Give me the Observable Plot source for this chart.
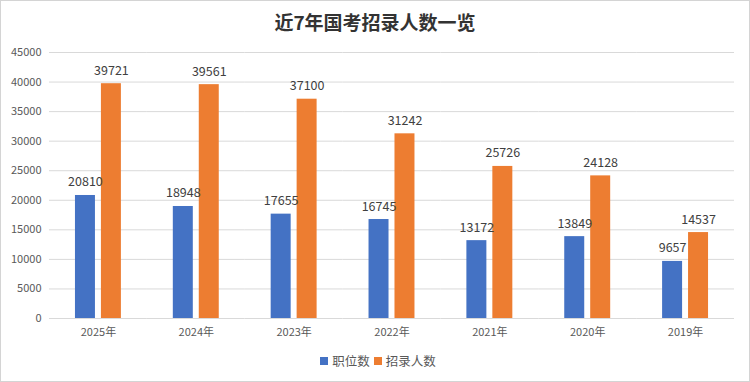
<!DOCTYPE html>
<html>
<head>
<meta charset="utf-8">
<script src="https://cdn.jsdelivr.net/npm/d3@7"></script>
<script src="https://cdn.jsdelivr.net/npm/@observablehq/plot@0.6"></script>
<style>
  html, body { margin: 0; padding: 0; background: #fff; }
  #wrap { width: 750px; height: 382px; box-sizing: border-box; border: 1px solid #d4d4d4; position: relative; overflow: hidden; font-family: "Noto Sans CJK SC", "Noto Sans", sans-serif; }
  #title { height: 39px; line-height: 42px; text-align: center; font-size: 19px; font-weight: bold; color: #333; font-family: "Noto Sans CJK SC", serif; }
  #chart svg { display: block; }
  #legend { display: flex; justify-content: center; align-items: center; gap: 4px; font-size: 12.5px; color: #595959; margin-top: 11px; margin-left: 6px; }
  .sw { display: inline-block; width: 8px; height: 8px; margin-right: 4px; }
  .item { display: flex; align-items: center; }
</style>
</head>
<body>
<div id="wrap">
  <div id="title">近7年国考招录人数一览</div>
  <div id="chart"></div>
  <div id="legend"></div>
</div>
<script>
const years = ["2025", "2024", "2023", "2022", "2021", "2020", "2019"];
const seriesNames = ["职位数", "招录人数"];
const positions = [20810, 18948, 17655, 16745, 13172, 13849, 9657];
const recruits = [39721, 39561, 37100, 31242, 25726, 24128, 14537];
const yTicks = [0, 5000, 10000, 15000, 20000, 25000, 30000, 35000, 40000, 45000];
const colors = ["#4472C4", "#ED7D31"];

const data = [];
years.forEach((y, i) => {
  data.push({year: y, series: seriesNames[0], value: positions[i]});
  data.push({year: y, series: seriesNames[1], value: recruits[i]});
});

const chart = Plot.plot({
  width: 748,
  height: 300,
  marginLeft: 48,
  marginRight: 15,
  marginTop: 12,
  marginBottom: 22,
  style: {fontFamily: '"Noto Sans CJK SC", "Noto Sans", sans-serif', fontSize: "11px", color: "#595959", background: "transparent"},
  fx: {domain: years, padding: 0, round: false, label: null, axis: "bottom", tickSize: 0, tickPadding: 10, tickFormat: d => d + "年"},
  x: {domain: seriesNames, axis: null, paddingInner: 0.23, paddingOuter: 1.0, round: false},
  y: {domain: [0, 45000], ticks: yTicks, label: null, tickSize: 0, tickPadding: 8, tickFormat: d => String(d)},
  color: {domain: seriesNames, range: colors},
  marks: [
    Plot.gridY(yTicks, {stroke: "#d9d9d9", strokeOpacity: 1}),
    Plot.barY(data, {fx: "year", x: "series", y: "value", fill: "series"}),
    Plot.text(data, {fx: "year", x: "series", y: "value", text: d => String(d.value), lineAnchor: "bottom", dy: -9, fill: "#404040", fontSize: 12.5})
  ]
});
document.getElementById("chart").appendChild(chart);

const legend = document.getElementById("legend");
seriesNames.forEach((s, i) => {
  const item = document.createElement("span");
  item.className = "item";
  const sw = document.createElement("span");
  sw.className = "sw";
  sw.style.background = colors[i];
  item.appendChild(sw);
  item.appendChild(document.createTextNode(s));
  legend.appendChild(item);
});
</script>
</body>
</html>
